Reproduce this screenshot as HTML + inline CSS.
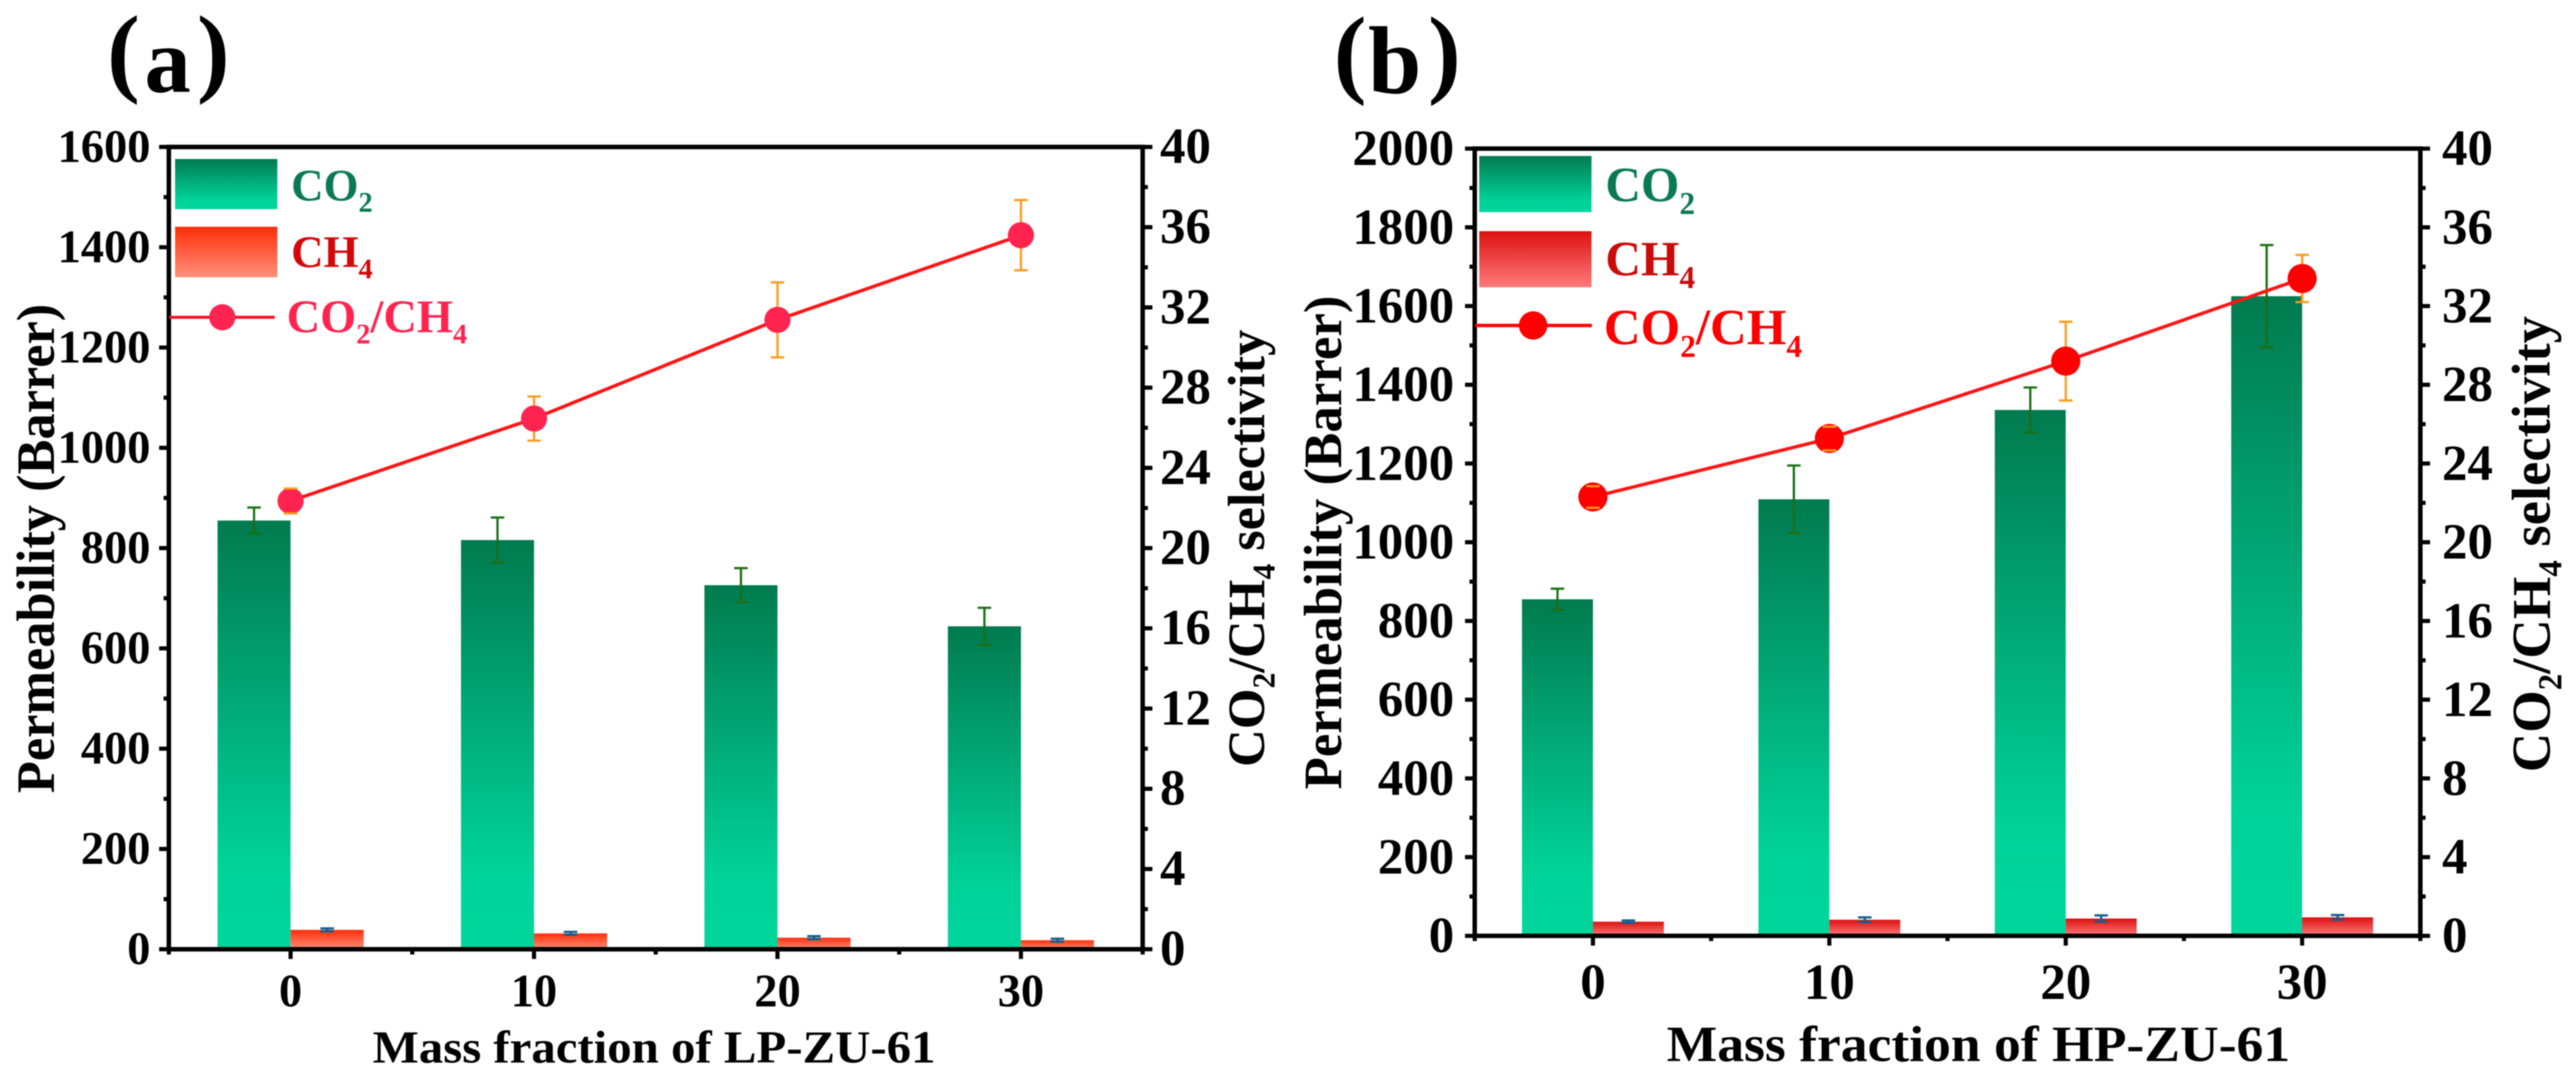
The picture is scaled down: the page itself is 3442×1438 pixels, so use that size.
<!DOCTYPE html>
<html lang="en">
<head>
<meta charset="utf-8">
<title>Permeability and selectivity charts</title>
<style>
html,body{margin:0;padding:0;background:#fff;width:3442px;height:1438px;overflow:hidden}
svg{display:block;filter:blur(0.7px)}
text{font-family:"Liberation Serif",serif;font-weight:bold}
</style>
</head>
<body>
<svg id="figure" xmlns="http://www.w3.org/2000/svg" width="3442" height="1438" viewBox="0 0 3442 1438">
<defs>
<linearGradient id="co2-grad" x1="0" y1="0" x2="0" y2="1"><stop offset="0" stop-color="#017a4f"/><stop offset="0.8" stop-color="#00d298"/><stop offset="1" stop-color="#00d69c"/></linearGradient>
<linearGradient id="ch4-grad-a" x1="0" y1="0" x2="0" y2="1"><stop offset="0" stop-color="#ff2d08"/><stop offset="1" stop-color="#ff8f7a"/></linearGradient>
<linearGradient id="ch4-grad-b" x1="0" y1="0" x2="0" y2="1"><stop offset="0" stop-color="#dd1010"/><stop offset="1" stop-color="#ff7a7a"/></linearGradient>
</defs>
<rect width="3442" height="1438" fill="#fff"/>
<g id="panel-a"></g>
<g id="panel-b"></g>

<text font-size="132"><tspan x="143" y="112">(</tspan><tspan x="193" y="123" font-size="124">a</tspan><tspan x="263" y="112">)</tspan></text>
<text font-size="132"><tspan x="1782" y="113.6">(</tspan><tspan x="1828" y="124" font-size="128">b</tspan><tspan x="1908" y="113.6">)</tspan></text>

<text x="498" y="1420" font-size="61" textLength="752" lengthAdjust="spacingAndGlyphs">Mass fraction of LP-ZU-61</text>
<text x="2227" y="1418" font-size="68" textLength="833" lengthAdjust="spacingAndGlyphs">Mass fraction of HP-ZU-61</text>
<text transform="translate(72,1060) rotate(-90)" font-size="72" textLength="654" lengthAdjust="spacingAndGlyphs">Permeability (Barrer)</text>
<text transform="translate(1792,1055) rotate(-90)" font-size="72" textLength="660" lengthAdjust="spacingAndGlyphs">Permeability (Barrer)</text>
<text transform="translate(1689,1025) rotate(-90)" font-size="70">CO<tspan dy="14" font-size="42">2</tspan><tspan dy="-14">/CH</tspan><tspan dy="14" font-size="42">4</tspan><tspan dy="-14"> selectivity</tspan></text>
<text transform="translate(3407,1032) rotate(-90)" font-size="73">CO<tspan dy="15" font-size="44">2</tspan><tspan dy="-15">/CH</tspan><tspan dy="15" font-size="44">4</tspan><tspan dy="-15"> selectivity</tspan></text>

<g>
<rect x="234" y="212.5" width="136.5" height="67" fill="url(#co2-grad)"/>
<text x="389" y="268" font-size="60" fill="#0a7a55">CO<tspan dy="15" font-size="38">2</tspan></text>
<rect x="234" y="303" width="136.5" height="67.5" fill="url(#ch4-grad-a)"/>
<text x="389" y="357" font-size="60" fill="#d40808">CH<tspan dy="15" font-size="38">4</tspan></text>
<line x1="226" x2="367" y1="424" y2="424" stroke="#f5101e" stroke-width="4"/>
<circle cx="297" cy="424" r="17.5" fill="#ff2450"/>
<text x="383" y="444" font-size="62" fill="#ff2450">CO<tspan dy="15" font-size="38">2</tspan><tspan dy="-15">/CH</tspan><tspan dy="15" font-size="38">4</tspan></text>
</g>

<g>
<rect x="1976.5" y="208.5" width="150" height="75" fill="url(#co2-grad)"/>
<text x="2145" y="269" font-size="66" fill="#0a7a55">CO<tspan dy="17" font-size="42">2</tspan></text>
<rect x="1976.5" y="309" width="150" height="75" fill="url(#ch4-grad-b)"/>
<text x="2145" y="368" font-size="66" fill="#cc0a0a">CH<tspan dy="17" font-size="42">4</tspan></text>
<line x1="1971" x2="2127" y1="435" y2="435" stroke="#ff0000" stroke-width="4.5"/>
<circle cx="2048.5" cy="435" r="19" fill="#ff0000"/>
<text x="2143" y="460" font-size="68" fill="#ff0000">CO<tspan dy="17" font-size="42">2</tspan><tspan dy="-17">/CH</tspan><tspan dy="17" font-size="42">4</tspan></text>
</g>
</svg>

<script>
const categories = [0, 10, 20, 30];
const xTickLabels = ['0', '10', '20', '30'];
const rightTickLabels = [0, 4, 8, 12, 16, 20, 24, 28, 32, 36, 40];

const leftTicksA = [0, 200, 400, 600, 800, 1000, 1200, 1400, 1600];
const co2A = [855, 816, 726, 644];
const co2ErrA = [26, 45, 34, 37];
const ch4A = [38.6, 31.6, 23, 18];
const ch4ErrA = [3, 3, 3, 3];
const selA = [22.35, 26.46, 31.38, 35.6];
const selErrA = [0.62, 1.1, 1.87, 1.75];

const leftTicksB = [0, 200, 400, 600, 800, 1000, 1200, 1400, 1600, 1800, 2000];
const co2B = [855, 1109, 1336, 1625];
const co2ErrB = [27, 86, 57, 130];
const ch4B = [36, 41, 44, 47];
const ch4ErrB = [3, 6, 8, 6];
const selB = [22.3, 25.27, 29.2, 33.4];
const selErrB = [0.55, 0.6, 2, 1.2];

const NS = 'http://www.w3.org/2000/svg';

function make(parent, tag, attrs, text) {
  const el = document.createElementNS(NS, tag);
  for (const k in attrs) el.setAttribute(k, attrs[k]);
  if (text !== undefined) el.textContent = text;
  parent.appendChild(el);
  return el;
}

function errorStem(parent, x, yTop, yBottom, color, width) {
  return make(parent, 'line', {x1: x, x2: x, y1: yTop, y2: yBottom, stroke: color, 'stroke-width': width});
}

function errorCaps(parent, x, yTop, yBottom, cap, color, width) {
  const g = make(parent, 'g', {stroke: color, 'stroke-width': width, fill: 'none'});
  make(g, 'line', {x1: x - cap, x2: x + cap, y1: yTop, y2: yTop});
  make(g, 'line', {x1: x - cap, x2: x + cap, y1: yBottom, y2: yBottom});
  return g;
}

function drawPanel(c) {
  const root = document.getElementById(c.id);
  const xs = v => c.x0 + (v - c.xMin) / (c.xMax - c.xMin) * (c.x1 - c.x0);
  const yl = v => c.yBottom - v / c.leftMax * (c.yBottom - c.yTop);
  const yr = v => c.yBottom - v / c.rightMax * (c.yBottom - c.yTop);
  const halfUnits = 3;

  categories.forEach((cat, i) => {
    const bar = make(root, 'rect', {x: xs(cat - halfUnits), y: yl(c.co2[i]), width: xs(cat) - xs(cat - halfUnits), height: c.yBottom - yl(c.co2[i]), fill: 'url(#co2-grad)'});
    
    
    const bar2 = make(root, 'rect', {x: xs(cat), y: yl(c.ch4[i]), width: xs(cat + halfUnits) - xs(cat), height: c.yBottom - yl(c.ch4[i]), fill: c.ch4Grad});
    
    
    const co2x = xs(cat - halfUnits / 2);
    const s1 = errorStem(root, co2x, yl(c.co2[i] + c.co2Err[i]), yl(c.co2[i] - c.co2Err[i]), '#1a7016', 3);
    
    
    const e1 = errorCaps(root, co2x, yl(c.co2[i] + c.co2Err[i]), yl(c.co2[i] - c.co2Err[i]), 9, '#1a7016', 3);
    
    
    const ch4x = xs(cat + halfUnits / 2);
    const s2 = errorStem(root, ch4x, yl(c.ch4[i] + c.ch4Err[i]), yl(c.ch4[i] - c.ch4Err[i]), '#0f5f8f', 3);
    
    
    const e2 = errorCaps(root, ch4x, yl(c.ch4[i] + c.ch4Err[i]), yl(c.ch4[i] - c.ch4Err[i]), 9, '#0f5f8f', 3);
    
    
  });

  categories.forEach((cat, i) => {
    const s3 = errorStem(root, xs(cat), yr(c.sel[i] + c.selErr[i]), yr(c.sel[i] - c.selErr[i]), '#ff9a1a', 3);
    
    
  });

  const line = make(root, 'polyline', {points: categories.map((cat, i) => xs(cat) + ',' + yr(c.sel[i])).join(' '), fill: 'none', stroke: '#ff1414', 'stroke-width': 4.5});
  
  

  categories.forEach((cat, i) => {
    const p = make(root, 'circle', {cx: xs(cat), cy: yr(c.sel[i]), r: c.markerR, fill: c.markerFill});
    
    
  });

  categories.forEach((cat, i) => {
    const e3 = errorCaps(root, xs(cat), yr(c.sel[i] + c.selErr[i]), yr(c.sel[i] - c.selErr[i]), 9, '#ff9a1a', 3);
    
    
  });

  const axes = make(root, 'g', {stroke: '#000', 'stroke-width': 6, fill: 'none'});
  
  
  make(axes, 'rect', {x: c.x0, y: c.yTop, width: c.x1 - c.x0, height: c.yBottom - c.yTop});

  const tickG = make(root, 'g', {stroke: '#000', 'stroke-width': 5.5});
  
  

  c.leftTicks.forEach((v, i) => {
    make(tickG, 'line', {x1: c.x0 - 13, x2: c.x0, y1: yl(v), y2: yl(v)});
    if (i < c.leftTicks.length - 1) {
      const mid = (v + c.leftTicks[i + 1]) / 2;
      make(tickG, 'line', {x1: c.x0 - 7, x2: c.x0, y1: yl(mid), y2: yl(mid)});
    }
    const t = make(root, 'text', {x: c.leftLabelX, y: yl(v) + c.leftDy, 'text-anchor': 'end', 'font-size': c.leftFont}, String(v));
    
    
  });

  rightTickLabels.forEach((v, i) => {
    make(tickG, 'line', {x1: c.x1, x2: c.x1 + 13, y1: yr(v), y2: yr(v)});
    if (i < rightTickLabels.length - 1) {
      const mid = (v + rightTickLabels[i + 1]) / 2;
      make(tickG, 'line', {x1: c.x1, x2: c.x1 + 7, y1: yr(mid), y2: yr(mid)});
    }
    const t = make(root, 'text', {x: c.rightLabelX, y: yr(v) + c.rightDy, 'font-size': c.rightFont}, String(v));
    
    
  });

  categories.forEach((cat, i) => {
    make(tickG, 'line', {x1: xs(cat), x2: xs(cat), y1: c.yBottom, y2: c.yBottom + 13});
    const t = make(root, 'text', {x: xs(cat), y: c.xLabelY, 'text-anchor': 'middle', 'font-size': c.xFont}, xTickLabels[i]);
    
    
  });
  [c.xMin, 5, 15, 25, c.xMax].forEach(v => {
    make(tickG, 'line', {x1: xs(v), x2: xs(v), y1: c.yBottom, y2: c.yBottom + 7});
  });
}

drawPanel({
  id: 'panel-a', x0: 225.6, x1: 1526.8, yTop: 196.4, yBottom: 1268.6,
  xMin: -5, xMax: 35, leftMax: 1600, rightMax: 40,
  leftTicks: leftTicksA, co2: co2A, co2Err: co2ErrA, ch4: ch4A, ch4Err: ch4ErrA, sel: selA, selErr: selErrA,
  ch4Grad: 'url(#ch4-grad-a)', markerR: 17.5, markerFill: '#ff2450',
  leftLabelX: 201, leftDy: 20, leftFont: 62,
  rightLabelX: 1550, rightDy: 21.5, rightFont: 68,
  xLabelY: 1345, xFont: 62
});

drawPanel({
  id: 'panel-b', x0: 1970.5, x1: 3234, yTop: 198.6, yBottom: 1250.7,
  xMin: -5, xMax: 35, leftMax: 2000, rightMax: 40,
  leftTicks: leftTicksB, co2: co2B, co2Err: co2ErrB, ch4: ch4B, ch4Err: ch4ErrB, sel: selB, selErr: selErrB,
  ch4Grad: 'url(#ch4-grad-b)', markerR: 19.5, markerFill: '#ff0000',
  leftLabelX: 1943, leftDy: 22, leftFont: 68,
  rightLabelX: 3263, rightDy: 22, rightFont: 68,
  xLabelY: 1335, xFont: 68
});
</script>
</body>
</html>
